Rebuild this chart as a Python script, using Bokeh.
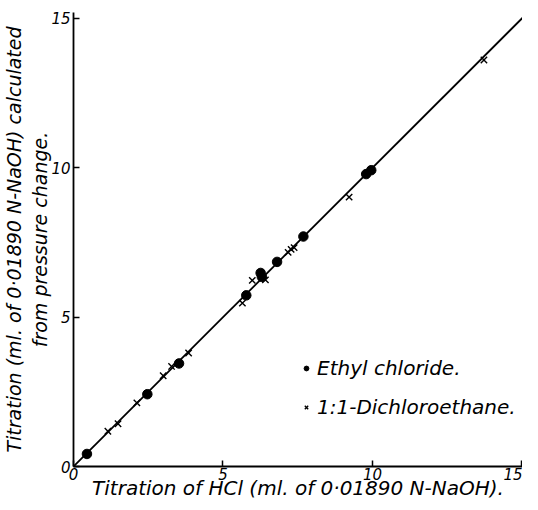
from bokeh.plotting import figure
from bokeh.models import Range1d, FixedTicker, Legend, LegendItem, ColumnDataSource
from bokeh.embed import file_html
from bokeh.resources import INLINE

# Data
ethyl_x = [0.45, 2.47, 3.53, 5.78, 6.26, 6.30, 6.81, 7.69, 9.79, 9.96]
ethyl_y = [0.42, 2.42, 3.45, 5.73, 6.48, 6.35, 6.85, 7.70, 9.79, 9.92]

dce_x = [1.15, 1.49, 2.12, 3.00, 3.28, 3.85, 5.65, 5.98, 6.42, 7.18, 7.28, 7.38, 9.22, 13.73]
dce_y = [1.18, 1.43, 2.13, 3.04, 3.35, 3.80, 5.47, 6.23, 6.25, 7.17, 7.27, 7.33, 9.02, 13.61]

fit_x = [0.0, 15.2]
fit_y = [0.0, 15.2]

tick_values = [0, 5, 10, 15]

x_label = "Titration of HCl (ml. of 0\u00b701890 N-NaOH)."
y_label = "Titration (ml. of 0\u00b701890 N-NaOH) calculated\nfrom pressure change."
legend_labels = ["Ethyl chloride.", "1:1-Dichloroethane."]

FONT = "DejaVu Sans"

p = figure(width=522, height=502, output_backend="svg", toolbar_location=None,
           x_range=Range1d(0, 15.02), y_range=Range1d(0, 15.2),
           min_border_left=71, min_border_top=12, min_border_right=0, min_border_bottom=0)

p.grid.visible = False
p.outline_line_color = None
p.background_fill_color = "white"
p.border_fill_color = "white"

for ax in (p.xaxis[0], p.yaxis[0]):
    ax.ticker = FixedTicker(ticks=tick_values)
    ax.minor_tick_line_color = None
    ax.major_tick_in = 6
    ax.major_tick_out = 0
    ax.major_tick_line_width = 1.5
    ax.axis_line_width = 1.8
    ax.axis_line_color = "black"
    ax.major_tick_line_color = "black"
    ax.major_label_text_font = FONT
    ax.major_label_text_font_style = "italic"
    ax.major_label_text_font_size = "15px"
    ax.major_label_text_color = "black"
    ax.axis_label_text_font = FONT
    ax.axis_label_text_font_style = "italic"
    ax.axis_label_text_color = "black"

p.xaxis[0].axis_label = x_label
p.xaxis[0].axis_label_text_font_size = "20px"
p.xaxis[0].major_label_standoff = 1
p.xaxis[0].axis_label_standoff = -7
p.yaxis[0].axis_label = y_label
p.yaxis[0].axis_label_text_font_size = "19px"
p.yaxis[0].major_label_standoff = 3
p.yaxis[0].axis_label_standoff = -3

p.line(fit_x, fit_y, line_color="black", line_width=1.8)

src_e = ColumnDataSource(dict(x=ethyl_x, y=ethyl_y))
src_d = ColumnDataSource(dict(x=dce_x, y=dce_y))
r_e = p.scatter("x", "y", source=src_e, marker="circle", size=9.5,
                fill_color="black", line_color="black")
r_d = p.scatter("x", "y", source=src_d, marker="x", size=9,
                line_color="black", line_width=1.4)

legend = Legend(items=[LegendItem(label=legend_labels[0], renderers=[r_e]),
                       LegendItem(label=legend_labels[1], renderers=[r_d])],
                location=(227, 47), padding=0, margin=0, spacing=15,
                glyph_width=12, glyph_height=20, label_height=20, label_standoff=5,
                border_line_color=None, background_fill_alpha=0,
                label_text_font=FONT, label_text_font_style="italic",
                label_text_font_size="20px", label_text_color="black")
p.add_layout(legend, "center")

open("out.html", "w").write(file_html(p, INLINE))
